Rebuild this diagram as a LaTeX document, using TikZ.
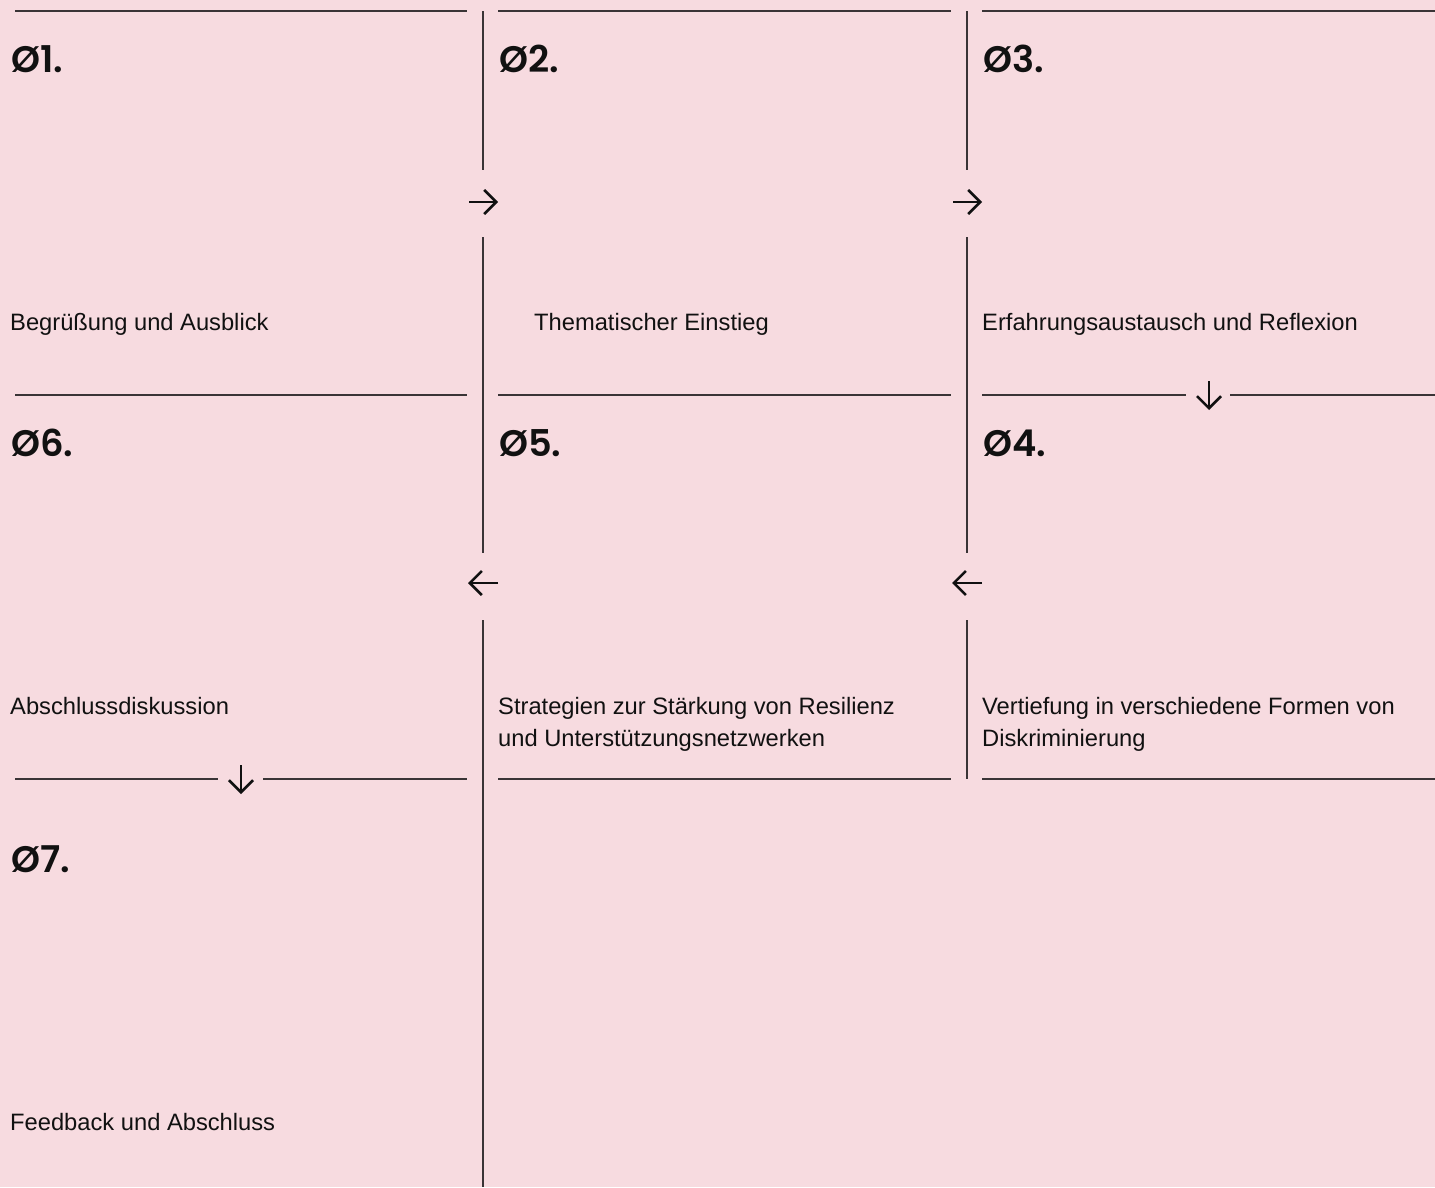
\documentclass[tikz,border=0pt]{standalone}
\usepackage{fontspec}
\setmainfont{Liberation Sans}
\newfontfamily\numfont{Poppins SemiBold}
\usetikzlibrary{arrows.meta}
\definecolor{bgpink}{HTML}{F7DBE0}
\definecolor{rule}{HTML}{3A3436}
\definecolor{ink}{HTML}{111111}
\tikzset{
  gridline/.style={draw=rule, line width=1.5bp},
  flowarrow/.style={draw=ink, line width=2.6bp, -{Straight Barb[length=12bp,width=24bp,line width=2.6bp]}},
  stepnum/.style={anchor=base west, inner sep=0pt, text=ink, font=\numfont\fontsize{37}{37}\selectfont},
  steptext/.style={anchor=base west, inner sep=0pt, text=ink, align=left, font=\fontsize{23.8}{32}\selectfont},
}
\begin{document}
\begin{tikzpicture}[x=1bp,y=-1bp]
\fill[bgpink] (0,0) rectangle (1435,1187);
\useasboundingbox (0,0) rectangle (1435,1187);
% horizontal rules
\draw[gridline] (15,11) -- (467,11);
\draw[gridline] (498,11) -- (951,11);
\draw[gridline] (982,11) -- (1435,11);
\draw[gridline] (15,395) -- (467,395);
\draw[gridline] (498,395) -- (951,395);
\draw[gridline] (982,395) -- (1186,395);
\draw[gridline] (1230,395) -- (1435,395);
\draw[gridline] (15,779) -- (218,779);
\draw[gridline] (263,779) -- (467,779);
\draw[gridline] (498,779) -- (951,779);
\draw[gridline] (982,779) -- (1435,779);
% vertical rules
\draw[gridline] (483,11) -- (483,170);
\draw[gridline] (483,237) -- (483,553);
\draw[gridline] (483,620) -- (483,1187);
\draw[gridline] (967,11) -- (967,170);
\draw[gridline] (967,237) -- (967,553);
\draw[gridline] (967,620) -- (967,779);
% arrows
\coordinate (a12s) at (469,202); \coordinate (a12e) at (498,202);
\coordinate (a23s) at (953,202); \coordinate (a23e) at (982,202);
\coordinate (a34s) at (1209,381); \coordinate (a34e) at (1209,410);
\coordinate (a45s) at (982,583); \coordinate (a45e) at (952,583);
\coordinate (a56s) at (498,583); \coordinate (a56e) at (468,583);
\coordinate (a67s) at (241,765); \coordinate (a67e) at (241,794);
\draw[flowarrow] (a12s) -- (a12e);
\draw[flowarrow] (a23s) -- (a23e);
\draw[flowarrow] (a34s) -- (a34e);
\draw[flowarrow] (a45s) -- (a45e);
\draw[flowarrow] (a56s) -- (a56e);
\draw[flowarrow] (a67s) -- (a67e);
% step numbers
\node[stepnum] (n1) at (11,72) {Ø1.};
\node[stepnum] (n2) at (499,72) {Ø2.};
\node[stepnum] (n3) at (983,72) {Ø3.};
\node[stepnum] (n6) at (11,456) {Ø6.};
\node[stepnum] (n5) at (499,456) {Ø5.};
\node[stepnum] (n4) at (983,456) {Ø4.};
\node[stepnum] (n7) at (11,872) {Ø7.};
% step texts
\node[steptext] (t1) at (10,330) {Begrüßung und Ausblick};
\node[steptext] (t2) at (534,330) {Thematischer Einstieg};
\node[steptext] (t3) at (982,330) {Erfahrungsaustausch und Reflexion};
\node[steptext] (t6) at (10,714) {Abschlussdiskussion};
\node[steptext] (t5) at (498,746) {Strategien zur Stärkung von Resilienz\\und Unterstützungsnetzwerken};
\node[steptext] (t4) at (982,746) {Vertiefung in verschiedene Formen von\\Diskriminierung};
\node[steptext] (t7) at (10,1130) {Feedback und Abschluss};
\end{tikzpicture}
\end{document}
